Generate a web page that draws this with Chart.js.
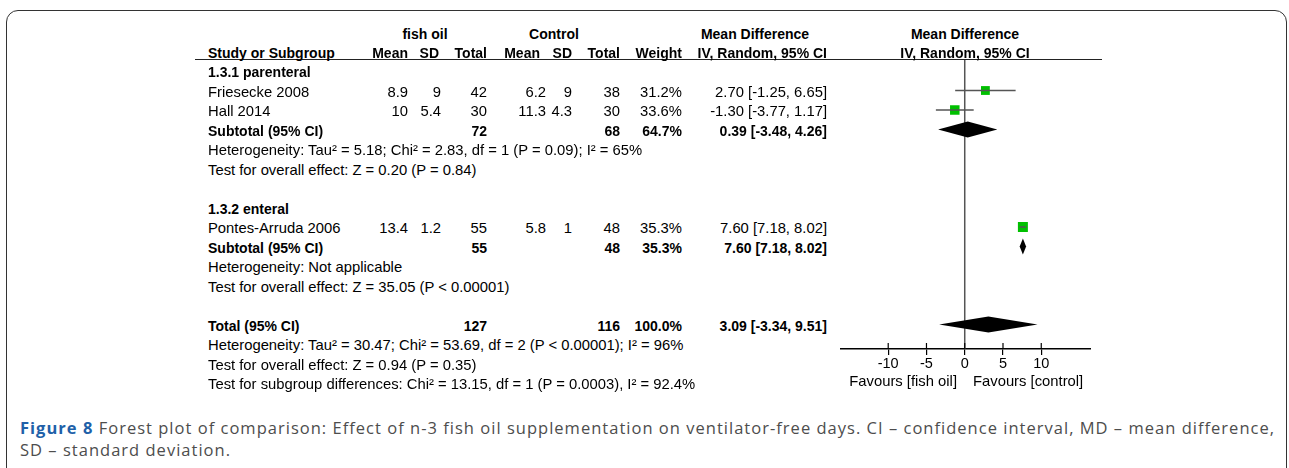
<!DOCTYPE html>
<html>
<head>
<meta charset="utf-8">
<script src="https://cdn.jsdelivr.net/npm/chart.js@4.4.1/dist/chart.umd.min.js"></script>
<style>
  html, body { margin: 0; padding: 0; background: #fff; }
  body { width: 1289px; height: 468px; overflow: hidden; position: relative; font-family: "Liberation Sans", Arial, sans-serif; color: #000; }
  #frame { position: absolute; left: 6px; top: 10px; width: 1281px; height: 490px; border: 1.5px solid #333; border-radius: 12px; box-sizing: border-box; }
  .t { position: absolute; white-space: nowrap; font-size: 14.8px; line-height: 20px; height: 20px; }
  .b { font-weight: bold; font-size: 14px; }
  #rule { position: absolute; left: 195px; top: 59px; width: 907px; border-top: 1.5px solid #222; }
  #plotwrap { position: absolute; left: 840px; top: 60px; width: 251px; height: 313px; }
  #caption { position: absolute; left: 20px; top: 417px; font-family: "Open Sans", Lato, sans-serif; font-size: 16.5px; line-height: 22px; color: #4d4d4d; white-space: nowrap; }
  #caption b { color: #2060a8; }
</style>
</head>
<body>
<div id="frame"></div>
<div id="rule"></div>
<div id="plotwrap"><canvas id="forest" width="251" height="313"></canvas></div>
<div id="caption"><span id="cap1"><b>Figure 8</b> Forest plot of comparison: Effect of n-3 fish oil supplementation on ventilator-free days. CI – confidence interval, MD – mean difference,</span><br><span id="cap2">SD – standard deviation.</span></div>

<script>
// study level data
const studies = ["Friesecke 2008", "Hall 2014", "Pontes-Arruda 2006"];
const fishMean = [8.9, 10, 13.4];
const fishSD = [9, 5.4, 1.2];
const fishTotal = [42, 30, 55];
const ctrlMean = [6.2, 11.3, 5.8];
const ctrlSD = [9, 4.3, 1];
const ctrlTotal = [38, 30, 48];
const weights = [31.2, 33.6, 35.3];
const md = [2.70, -1.30, 7.60];
const mdLow = [-1.25, -3.77, 7.18];
const mdHigh = [6.65, 1.17, 8.02];
const studyRows = [1, 2, 8];

// pooled estimates (subtotals + total)
const poolLabels = ["Subtotal (95% CI)", "Subtotal (95% CI)", "Total (95% CI)"];
const poolFishTotal = [72, 55, 127];
const poolCtrlTotal = [68, 48, 116];
const poolWeight = [64.7, 35.3, 100.0];
const poolMd = [0.39, 7.60, 3.09];
const poolLow = [-3.48, 7.18, -3.34];
const poolHigh = [4.26, 8.02, 9.51];
const poolRows = [3, 9, 13];

const groupHeaders = ["1.3.1 parenteral", "1.3.2 enteral"];
const groupRows = [0, 7];

const notes = [
  "Heterogeneity: Tau² = 5.18; Chi² = 2.83, df = 1 (P = 0.09); I² = 65%",
  "Test for overall effect: Z = 0.20 (P = 0.84)",
  "Heterogeneity: Not applicable",
  "Test for overall effect: Z = 35.05 (P < 0.00001)",
  "Heterogeneity: Tau² = 30.47; Chi² = 53.69, df = 2 (P < 0.00001); I² = 96%",
  "Test for overall effect: Z = 0.94 (P = 0.35)",
  "Test for subgroup differences: Chi² = 13.15, df = 1 (P = 0.0003), I² = 92.4%"
];
const noteRows = [4, 5, 10, 11, 14, 15, 16];

const tickValues = [-10, -5, 0, 5, 10];

// layout
const ROW0 = 71, PITCH = 19.5, TEXT_SHIFT = 1;
const PLOT_TOP = 60, PLOT_H = 289;
const rowY = r => ROW0 + r * PITCH;
const col = { study: 208, fMean: 408, fSD: 441, fTot: 487, cMean: 546, cSD: 572, cTot: 620, weight: 682, md: 827 };

function put(text, x, y, align, bold) {
  const d = document.createElement("div");
  d.className = "t" + (bold ? " b" : "");
  d.textContent = text;
  d.style.top = (y - 10) + "px";
  if (align === "right") {
    d.style.left = (x - 400) + "px"; d.style.width = "400px"; d.style.textAlign = "right";
  } else if (align === "center") {
    d.style.left = (x - 200) + "px"; d.style.width = "400px"; d.style.textAlign = "center";
  } else {
    d.style.left = x + "px";
  }
  document.body.appendChild(d);
}

const ci = (m, l, h) => m.toFixed(2) + " [" + l.toFixed(2) + ", " + h.toFixed(2) + "]";

// headers
put("fish oil", 425, 34, "center", true);
put("Control", 554, 34, "center", true);
put("Mean Difference", 755, 34, "center", true);
put("Mean Difference", 965, 34, "center", true);
put("Study or Subgroup", col.study, 53, "left", true);
put("Mean", col.fMean, 53, "right", true);
put("SD", col.fSD - 2, 53, "right", true);
put("Total", col.fTot, 53, "right", true);
put("Mean", col.cMean - 6, 53, "right", true);
put("SD", col.cSD, 53, "right", true);
put("Total", col.cTot, 53, "right", true);
put("Weight", col.weight, 53, "right", true);
put("IV, Random, 95% CI", col.md, 53, "right", true);
put("IV, Random, 95% CI", 965, 53, "center", true);

groupHeaders.forEach((g, i) => put(g, col.study, rowY(groupRows[i]) + TEXT_SHIFT, "left", true));

studies.forEach((s, i) => {
  const y = rowY(studyRows[i]) + TEXT_SHIFT;
  put(s, col.study, y, "left");
  put(String(fishMean[i]), col.fMean, y, "right");
  put(String(fishSD[i]), col.fSD, y, "right");
  put(String(fishTotal[i]), col.fTot, y, "right");
  put(String(ctrlMean[i]), col.cMean, y, "right");
  put(String(ctrlSD[i]), col.cSD, y, "right");
  put(String(ctrlTotal[i]), col.cTot, y, "right");
  put(weights[i].toFixed(1) + "%", col.weight, y, "right");
  put(ci(md[i], mdLow[i], mdHigh[i]), col.md, y, "right");
});

poolLabels.forEach((s, i) => {
  const y = rowY(poolRows[i]) + TEXT_SHIFT;
  put(s, col.study, y, "left", true);
  put(String(poolFishTotal[i]), col.fTot, y, "right", true);
  put(String(poolCtrlTotal[i]), col.cTot, y, "right", true);
  put(poolWeight[i].toFixed(1) + "%", col.weight, y, "right", true);
  put(ci(poolMd[i], poolLow[i], poolHigh[i]), col.md, y, "right", true);
});

notes.forEach((n, i) => put(n, col.study, rowY(noteRows[i]) + TEXT_SHIFT, "left"));

put("Favours [fish oil]", 957, 381, "right");
put("Favours [control]", 973, 381, "left");

// forest plot
const yMin = (PLOT_TOP - ROW0) / PITCH;
const yMax = yMin + PLOT_H / PITCH;

const ciSets = studies.map((s, i) => ({
  label: s,
  data: [{ x: mdLow[i], y: studyRows[i] }, { x: mdHigh[i], y: studyRows[i] }],
  showLine: true,
  borderColor: "#555",
  borderWidth: 1.5,
  pointRadius: 0
}));

const squares = {
  label: "estimates",
  data: studies.map((s, i) => ({ x: md[i], y: studyRows[i] })),
  pointStyle: "rect",
  pointRadius: weights.map(w => w * 0.2),
  backgroundColor: "#00c000",
  borderWidth: 0
};

const forestExtras = {
  id: "forestExtras",
  beforeDatasetsDraw(chart) {
    const { ctx, chartArea, scales } = chart;
    const x0 = scales.x.getPixelForValue(0);
    ctx.save();
    ctx.strokeStyle = "#555";
    ctx.lineWidth = 1.5;
    ctx.beginPath();
    ctx.moveTo(x0, chartArea.top);
    ctx.lineTo(x0, chartArea.bottom);
    ctx.stroke();
    ctx.restore();
  },
  afterDatasetsDraw(chart) {
    const { ctx, scales } = chart;
    ctx.save();
    ctx.fillStyle = "#000";
    poolRows.forEach((r, i) => {
      const y = scales.y.getPixelForValue(r);
      const xl = scales.x.getPixelForValue(poolLow[i]);
      const xm = scales.x.getPixelForValue(poolMd[i]);
      const xh = scales.x.getPixelForValue(poolHigh[i]);
      ctx.beginPath();
      ctx.moveTo(xl, y);
      ctx.lineTo(xm, y - 8);
      ctx.lineTo(xh, y);
      ctx.lineTo(xm, y + 8);
      ctx.closePath();
      ctx.fill();
    });
    ctx.restore();
  },
  afterDraw(chart) {
    // upper half of the tick marks
    const { ctx, chartArea, scales } = chart;
    ctx.save();
    ctx.strokeStyle = "#000";
    ctx.lineWidth = 1.2;
    tickValues.forEach(v => {
      const x = scales.x.getPixelForValue(v);
      ctx.beginPath();
      ctx.moveTo(x, chartArea.bottom - 6);
      ctx.lineTo(x, chartArea.bottom);
      ctx.stroke();
    });
    ctx.restore();
  }
};

new Chart(document.getElementById("forest"), {
  type: "scatter",
  data: { datasets: [...ciSets, squares] },
  options: {
    responsive: false,
    animation: false,
    devicePixelRatio: 1,
    layout: { padding: 0, autoPadding: false },
    plugins: { legend: { display: false }, tooltip: { enabled: false } },
    scales: {
      x: {
        type: "linear",
        min: -16.3,
        max: 16.5,
        afterBuildTicks: s => { s.ticks = tickValues.map(v => ({ value: v })); },
        afterFit: s => { s.height = 313 - PLOT_H; },
        ticks: { color: "#000", font: { family: "'Liberation Sans', Arial", size: 14.5 }, padding: 0, maxRotation: 0, autoSkip: false },
        grid: { drawOnChartArea: false, drawTicks: true, tickLength: 6, color: "#000", lineWidth: 1.2 },
        border: { display: true, color: "#000", width: 1.5 }
      },
      y: { type: "linear", display: false, reverse: true, min: yMin, max: yMax }
    }
  },
  plugins: [forestExtras]
});

// fit caption to the width of the reference line
const cap1 = document.getElementById("cap1");
const cap2 = document.getElementById("cap2");
const w1 = cap1.getBoundingClientRect().width;
const ls = (1255 - w1) / cap1.textContent.length;
cap1.style.letterSpacing = ls + "px";
cap2.style.letterSpacing = ls + "px";
</script>
</body>
</html>
